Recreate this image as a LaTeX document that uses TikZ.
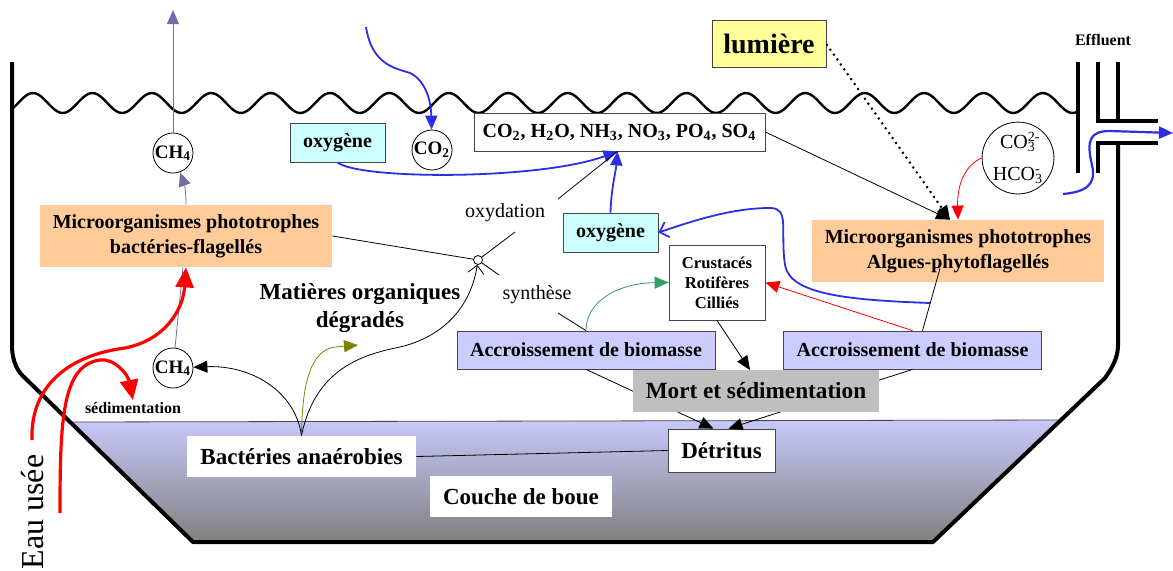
\documentclass[tikz,border=0pt]{standalone}
\usepackage{fontspec}
\setmainfont{Liberation Serif}
\usetikzlibrary{arrows.meta,shapes,backgrounds}
\definecolor{peche}{RGB}{255,204,153}
\definecolor{lavande}{RGB}{204,204,255}
\definecolor{turquoise}{RGB}{204,255,255}
\definecolor{jaunepale}{RGB}{255,255,153}
\definecolor{grismort}{RGB}{191,191,191}
\definecolor{bordure}{RGB}{70,70,70}
\definecolor{ardoise}{RGB}{110,110,170}
\definecolor{bleuvif}{RGB}{45,45,225}
\definecolor{vertbio}{RGB}{50,160,100}
\definecolor{kaki}{RGB}{128,128,0}
\definecolor{bouehaut}{RGB}{200,200,250}
\definecolor{bouebas}{RGB}{128,128,128}
\definecolor{rougevif}{RGB}{255,0,0}

\begin{document}
\begin{tikzpicture}[x=0.5pt,y=-0.5pt]
\useasboundingbox (0,0) rectangle (1173,570);
\begin{scope}
\tikzstyle{every node}=[inner sep=1pt, align=center];
\tikzstyle{gras}=[font=\bfseries\fontsize{10}{12.5}\selectfont];
\tikzstyle{phototrophe}=[gras, fill=peche, minimum width=146pt, minimum height=31pt];
\tikzstyle{biomasse}=[gras, draw=bordure, fill=lavande, minimum width=129pt, minimum height=19pt];
\tikzstyle{oxygene}=[gras, draw=bordure, fill=turquoise, minimum width=47.5pt, minimum height=19.5pt];
\tikzstyle{gaz}=[circle, draw, fill=white, minimum size=20pt, inner sep=0pt, font=\bfseries\fontsize{9.5}{11}\selectfont];
\tikzstyle{fond}=[font=\bfseries\fontsize{11.5}{14}\selectfont, fill=white];
\tikzstyle{fleche}=[-{Triangle[length=7pt,width=6pt]}];
\tikzstyle{chevron}=[-{Straight Barb[length=4pt,width=8pt]}];
\tikzstyle{bleu}=[bleuvif, line width=0.9pt];
\tikzstyle{eauusee}=[rougevif, line width=1.6pt, -{Triangle[length=10pt,width=9pt]}];

% couche de boue et bassin
\shade[top color=bouehaut, bottom color=bouebas] (68,422) -- (1060,420) -- (933,542) -- (193,542) -- cycle;
\draw[bordure] (68,422) -- (1060,420);
\draw[line width=2pt, line join=round] (12,62) -- (12,345) .. controls (12,362) and (18,372) .. (25,378) -- (193,542) -- (933,542) -- (1105,378) .. controls (1112,368) and (1118,358) .. (1118,345) -- (1118,143);
\draw[line width=2pt] (1078,62) -- (1078,173)
(1098,62) -- (1098,121) -- (1158,121)
(1118,62) -- (1118,121)
(1158,143) -- (1098,143) -- (1098,173);
\draw[line width=1.2pt] plot[domain=12:1078, samples=400, smooth] (\x,{103-10*cos(6.06*(\x-33))});

% noeuds
\draw (769,44) node[draw=bordure, fill=jaunepale, minimum width=57pt, minimum height=23.5pt, font=\bfseries\fontsize{14}{16}\selectfont] (lumiere) {lumière};
\draw (1103,40) node[font=\bfseries\fontsize{8}{9}\selectfont] (effluent) {Effluent};
\draw (186,236) node[phototrophe] (bacteriesflag) {Microorganismes phototrophes\\bactéries-flagellés};
\draw (958,251) node[phototrophe] (algues) {Microorganismes phototrophes\\Algues-phytoflagellés};
\draw (619.5,132) node[gras, draw=bordure, fill=white, minimum width=145.5pt, minimum height=19pt, font=\bfseries\fontsize{10}{12}\selectfont] (ions) {CO\textsubscript{2}, H\textsubscript{2}O, NH\textsubscript{3}, NO\textsubscript{3}, PO\textsubscript{4}, SO\textsubscript{4}};
\draw (337.5,142.5) node[oxygene] (oxyhaut) {oxygène};
\draw (610.5,232.5) node[oxygene] (oxybas) {oxygène};
\draw (432,150) node[gaz] (co2) {CO\textsubscript{2}};
\draw (173,153) node[gaz] (ch4haut) {CH\textsubscript{4}};
\draw (173,368) node[gaz] (ch4bas) {CH\textsubscript{4}};
\draw (1018,158) node[circle, draw, minimum size=35pt, inner sep=0pt, font=\fontsize{10}{16}\selectfont] (carbonate) {CO\rlap{\textsuperscript{2-}}\textsubscript{3}\\HCO\rlap{\textsuperscript{-}}\textsubscript{3}};
\draw (717,282.5) node[draw=bordure, fill=white, minimum width=48pt, minimum height=37.5pt, font=\bfseries\fontsize{8.3}{10}\selectfont] (crust) {Crustacés\\Rotifères\\Cilliés};
\draw (586,350) node[biomasse] (biomasseg) {Accroissement de biomasse};
\draw (912.5,350) node[biomasse] (biomassed) {Accroissement de biomasse};
\draw (721.5,450.5) node[fond, draw=bordure, minimum width=53.5pt, minimum height=21.5pt] (detritus) {Détritus};
\draw (521,496.5) node[fond, minimum width=91pt, minimum height=20.5pt] (boue) {Couche de boue};
\draw (301.5,456.5) node[fond, minimum width=114.5pt, minimum height=20.5pt] (bacteries) {Bactéries anaérobies};
\draw (360,308) node[font=\bfseries\fontsize{11.5}{14}\selectfont] (matieres) {Matières organiques\\dégradés};
\draw (505,213) node[font=\fontsize{10}{12}\selectfont] (oxydation) {oxydation};
\draw (537,295) node[font=\fontsize{10}{12}\selectfont] (synthese) {synthèse};
\draw (133,408) node[font=\bfseries\fontsize{8}{9}\selectfont] (sedim) {sédimentation};
\draw (33,512) node[rotate=90, font=\fontsize{16}{18}\selectfont] (eau) {Eau usée};
\draw (478,260) node[circle, draw, fill=white, minimum size=4.5pt, inner sep=0pt] (jonction) {};

\coordinate (ciel) at (173,10);
\coordinate (air) at (366,27);
\coordinate (entreea) at (32,440);
\coordinate (entreeb) at (60,513);
\coordinate (oxa) at (515,232);
\coordinate (oxb) at (558,199);
\coordinate (syna) at (499,275);
\coordinate (synb) at (558,313);
\coordinate (kakifin) at (358,345);
\coordinate (retour) at (930,303);
\coordinate (sortiea) at (1063,194);
\coordinate (sortieb) at (1173,133);

% liaisons
\draw[ardoise, fleche] (ch4haut) -- (ciel);
\draw[ardoise, fleche] (bacteriesflag.north) to[out=90, in=-70] (ch4haut);
\draw[ardoise] (ch4bas) -- ([xshift=-1.5pt]bacteriesflag.south);
\draw[eauusee] (entreea) .. controls (30,385) and (70,355) .. (125,348) .. controls (165,340) and (183,310) .. (bacteriesflag.south);
\draw[eauusee] (entreeb) .. controls (60,420) and (62,365) .. (100,360) .. controls (115,358) and (128,375) .. (sedim.north);
\draw[bleu, fleche] (air) .. controls (372,65) and (395,68) .. (410,73) .. controls (425,80) and (431,100) .. (co2);
\draw[bleu, fleche] (oxyhaut.south) .. controls (360,180) and (540,180) .. ([xshift=-1pt]ions.south);
\draw[bleu, fleche] (oxybas.north) .. controls (611,190) and (616,170) .. ([xshift=-1pt]ions.south);
\draw (bacteriesflag.east) -- (jonction);
\draw (jonction) -- (oxa)
(oxb) -- ([xshift=-1pt]ions.south)
(jonction) -- (syna)
(synb) -- (biomasseg.north);
\draw[chevron] (bacteries.north) .. controls (315,370) and (360,355) .. (400,347) .. controls (450,335) and (472,300) .. (jonction);
\draw[kaki, fleche] (bacteries.north) .. controls (302,380) and (312,350) .. (335,347) -- (kakifin);
\draw[fleche] (bacteries.north) .. controls (295,390) and (250,365) .. (ch4bas);
\draw[fleche] (ions.east) -- ([xshift=-4pt]algues.north);
\draw[dotted, line width=1pt, fleche] (lumiere.east) -- ([xshift=-4pt]algues.north);
\draw[rougevif, fleche] (carbonate.west) .. controls (965,165) and (957,185) .. (algues.north);
\draw[bleu, chevron] (retour) .. controls (850,300) and (790,295) .. (785,265) .. controls (780,230) and (790,208) .. (770,208) .. controls (730,208) and (690,222) .. (oxybas.east);
\draw[bleu, line width=1.1pt, fleche] (sortiea) .. controls (1085,192) and (1097,185) .. (1092,165) .. controls (1086,140) and (1090,131) .. (1110,131) -- (sortieb);
\draw ([xshift=5pt]biomassed.north) -- ([xshift=-9pt,yshift=7pt]algues.south);
\draw[vertbio, fleche] (biomasseg.north) .. controls (586,300) and (620,283) .. (crust.west);
\draw[rougevif, fleche] (biomassed.north) -- (crust.east);
\draw[fleche] (crust.south) -- ([xshift=-1.5pt]753,370);
\draw[fleche] (biomasseg.south) -- ([xshift=-4pt]detritus.north);
\draw[fleche] (biomassed.south) -- ([xshift=3.5pt]detritus.north);
\draw (bacteries.east) -- (detritus.west);
\draw (756,391) node[fill=grismort, minimum width=123pt, minimum height=21pt, font=\bfseries\fontsize{11.6}{14}\selectfont] (mort) {Mort et sédimentation};
\end{scope}
\end{tikzpicture}
\end{document}
